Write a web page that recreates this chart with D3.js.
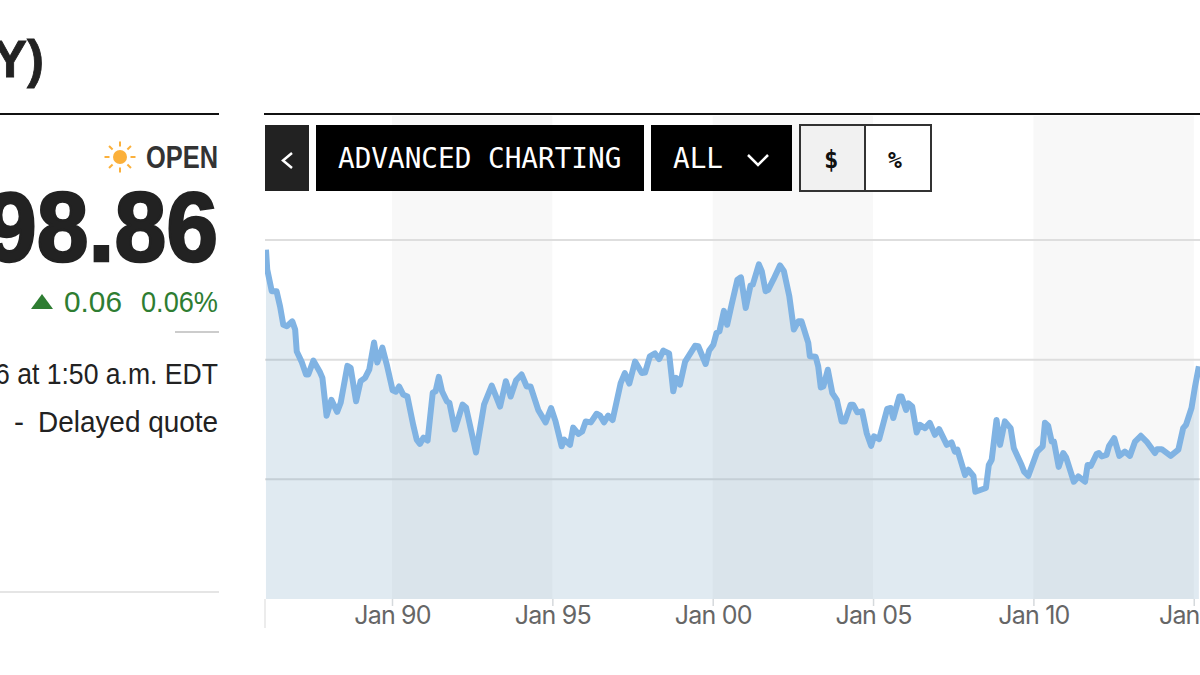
<!DOCTYPE html>
<html>
<head>
<meta charset="utf-8">
<script src="https://cdn.jsdelivr.net/npm/d3@7"></script>
<style>
  html, body { margin: 0; padding: 0; background: #fff; overflow: hidden; }
  svg { display: block; }
  text { font-family: "Liberation Sans", sans-serif; }
  .axis path { display: none; }
  .axis line { stroke: #d5d9dc; stroke-width: 1.5; }
  .axis text { font-family: "Inter", sans-serif; font-size: 25px; fill: #666; letter-spacing: -0.8px; }
</style>
</head>
<body>
<div id="chart"></div>
<script>
// Values: decimal year, index level
const years = [
  1986.07,1986.11,1986.25,1986.40,1986.51,1986.61,1986.72,1986.89,1986.98,1987.03,1987.18,1987.32,1987.39,1987.55,1987.76,1987.83,1987.96,
  1988.11,1988.29,1988.40,1988.61,1988.71,1988.88,1989.02,1989.16,1989.29,1989.44,1989.54,1989.70,1989.85,
  1990.02,1990.12,1990.22,1990.35,1990.48,1990.66,1990.77,1990.87,1990.98,1991.11,1991.27,1991.36,1991.46,1991.56,1991.71,1991.79,1991.96,
  1992.20,1992.31,1992.62,1992.87,1993.11,1993.37,1993.55,1993.70,1993.87,1994.04,1994.20,1994.32,1994.56,1994.79,1994.96,
  1995.10,1995.29,1995.37,1995.55,1995.65,1995.81,1995.93,1996.04,1996.20,1996.38,1996.49,1996.61,1996.74,1996.88,
  1997.13,1997.26,1997.40,1997.58,1997.79,1997.89,1998.04,1998.20,1998.33,1998.46,1998.64,1998.77,1998.86,1998.98,
  1999.14,1999.45,1999.55,1999.78,1999.89,2000.02,2000.12,2000.21,2000.35,2000.45,2000.59,2000.77,2000.88,
  2001.03,2001.18,2001.25,2001.44,2001.53,2001.65,2001.73,2001.89,2002.10,2002.22,2002.39,2002.53,2002.67,2002.77,2002.98,
  2003.03,2003.21,2003.29,2003.37,2003.45,2003.59,2003.73,2003.87,2004.02,2004.12,2004.30,2004.38,2004.51,2004.66,2004.80,2004.94,
  2005.03,2005.19,2005.44,2005.55,2005.63,2005.82,2005.89,2006.03,2006.10,2006.22,2006.36,2006.46,2006.62,2006.77,2006.93,
  2007.06,2007.30,2007.45,2007.55,2007.63,2007.87,2007.97,2008.13,2008.19,2008.52,2008.61,2008.70,2008.85,2008.96,
  2009.11,2009.29,2009.39,2009.63,2009.71,2009.84,2010.12,2010.29,2010.36,2010.46,2010.57,2010.64,2010.79,2010.93,
  2011.02,2011.26,2011.40,2011.61,2011.69,2011.79,2011.97,2012.04,2012.13,2012.28,2012.36,2012.52,2012.68,2012.85,
  2013.01,2013.17,2013.35,2013.53,2013.79,2013.86,2014.00,2014.28,2014.52,2014.67,2014.76,2014.93,2015.04,2015.16
];
const levels = [
  123.0,118.8,114.3,114.3,111.1,107.3,107.0,108.0,106.3,101.7,99.6,96.9,96.9,99.8,97.3,96.2,88.3,
  91.6,89.1,91.0,98.7,98.3,91.3,95.5,96.2,97.9,103.6,99.4,102.5,98.6,
  93.6,93.3,94.4,92.7,92.3,86.4,83.3,82.4,83.7,83.1,93.1,93.4,96.4,93.4,91.3,91.0,85.4,
  90.6,90.0,80.6,90.6,94.6,90.2,95.5,92.3,95.7,96.9,94.4,94.4,89.5,86.9,89.9,
  87.1,81.9,83.3,82.2,85.8,84.5,85.0,87.1,86.9,88.7,88.3,86.9,88.3,87.4,
  95.1,97.2,95.0,99.6,97.2,97.3,100.7,101.3,100.1,101.9,101.3,93.4,96.2,94.8,
  99.6,102.9,102.8,99.1,101.9,103.1,105.6,105.9,110.2,107.3,111.5,116.7,117.2,
  110.8,115.5,115.7,119.9,118.5,114.3,114.6,116.7,119.7,118.5,113.2,106.3,108.0,108.0,103.5,
  100.7,100.6,98.6,94.2,94.4,97.9,93.0,91.6,87.1,87.1,90.6,90.6,89.0,89.2,84.7,82.0,
  84.0,83.4,89.7,89.9,87.8,92.3,92.3,89.5,90.9,90.2,84.8,86.4,85.7,86.8,84.3,
  85.5,82.2,82.7,80.8,81.2,75.9,77.0,75.7,72.4,73.2,78.0,79.1,87.4,82.2,
  87.1,85.7,81.5,78.0,76.6,75.7,80.8,81.9,86.8,86.2,82.9,82.9,77.6,80.5,
  79.6,74.5,75.6,74.5,78.0,77.8,80.3,80.5,79.8,80.1,82.0,83.6,79.9,80.8,
  79.9,82.9,84.1,82.9,80.5,81.3,81.3,79.9,81.2,85.7,86.4,89.9,94.4,98.6
];
const gridLevels = [75, 100, 125];
const tickYears = [1990, 1995, 2000, 2005, 2010, 2015];
const tickLabels = ['Jan 90', 'Jan 95', 'Jan 00', 'Jan 05', 'Jan 10', 'Jan 15'];
// shaded five year columns
const bandStarts = [1990, 2000, 2010];
const bandEnds = [1995, 2005, 2015];

const WIDTH = 1200;
const HEIGHT = 675;
const PLOT_LEFT = 265;
const BASELINE = 599;

const svg = d3.select('#chart').append('svg')
    .attr('width', WIDTH)
    .attr('height', HEIGHT);

const x = d3.scaleLinear().domain([1990, 2015]).range([392, 1193.75]);
const y = d3.scaleLinear().domain([50, 125]).range([BASELINE, 240]);

svg.append('clipPath').attr('id', 'plot-clip')
    .append('rect')
    .attr('x', PLOT_LEFT)
    .attr('y', 116)
    .attr('width', WIDTH - PLOT_LEFT)
    .attr('height', BASELINE - 116);

const plot = svg.append('g').attr('clip-path', 'url(#plot-clip)');

// Background bands
bandStarts.forEach((start, i) => {
    plot.append('rect')
        .attr('x', x(start))
        .attr('y', 116)
        .attr('width', x(bandEnds[i]) - x(start))
        .attr('height', BASELINE - 116)
        .attr('fill', '#f8f8f8');
});

// Grid lines
gridLevels.forEach(level => {
    plot.append('line')
        .attr('x1', PLOT_LEFT)
        .attr('x2', WIDTH)
        .attr('y1', y(level))
        .attr('y2', y(level))
        .attr('stroke', '#dedede')
        .attr('stroke-width', 2);
});

// Area and line
const points = years.map((year, i) => [year, levels[i]]);

plot.append('path')
    .datum(points)
    .attr('fill', '#5b8fb5')
    .attr('fill-opacity', 0.19)
    .attr('d', d3.area().x(d => x(d[0])).y0(BASELINE).y1(d => y(d[1])));

plot.append('path')
    .datum(points)
    .attr('fill', 'none')
    .attr('stroke', '#80b3e3')
    .attr('stroke-width', 6)
    .attr('stroke-linejoin', 'round')
    .attr('d', d3.line().x(d => x(d[0])).y(d => y(d[1])));

// X axis
const axis = svg.append('g')
    .attr('class', 'axis')
    .attr('transform', `translate(0, ${BASELINE})`)
    .call(d3.axisBottom(x)
        .tickValues(tickYears)
        .tickSize(7)
        .tickPadding(0)
        .tickFormat((d, i) => tickLabels[i]));

svg.append('line')
    .attr('x1', 265).attr('x2', 265)
    .attr('y1', BASELINE).attr('y2', 628)
    .attr('stroke', '#e6e6e6').attr('stroke-width', 1.5);

// Rules
[[0, 219], [264, WIDTH]].forEach(r => {
    svg.append('line')
        .attr('x1', r[0]).attr('x2', r[1])
        .attr('y1', 114).attr('y2', 114)
        .attr('stroke', '#111').attr('stroke-width', 2);
});
svg.append('line').attr('x1', 175).attr('x2', 219).attr('y1', 332).attr('y2', 332)
    .attr('stroke', '#bbb').attr('stroke-width', 1.5);
svg.append('line').attr('x1', 0).attr('x2', 219).attr('y1', 592).attr('y2', 592)
    .attr('stroke', '#ddd').attr('stroke-width', 1.5);

// Buttons
function button(left, right, fill, stroke) {
    svg.append('rect')
        .attr('x', left).attr('y', 125)
        .attr('width', right - left).attr('height', 66)
        .attr('fill', fill)
        .attr('stroke', stroke || 'none')
        .attr('stroke-width', stroke ? 2 : 0);
}
function monoLabel(px, text, fill, size, weight) {
    svg.append('text')
        .attr('x', px).attr('y', 168)
        .attr('fill', fill)
        .attr('font-size', size)
        .attr('font-weight', weight || 400)
        .style('font-family', '"DejaVu Sans Mono", monospace')
        .text(text);
}
button(265, 309, '#222');
button(316, 644, '#000');
button(651, 792, '#000');
button(800, 865, '#f1f1f1', '#333');
button(865, 931, '#fff', '#333');

svg.append('path').attr('d', 'M292,153 L283,160.5 L292,168')
    .attr('fill', 'none').attr('stroke', '#fff').attr('stroke-width', 2.5);
monoLabel(338, 'ADVANCED CHARTING', '#fff', 27.7);
monoLabel(673, 'ALL', '#fff', 27.7);
svg.append('path').attr('d', 'M748,155 L758,165 L768,155')
    .attr('fill', 'none').attr('stroke', '#fff').attr('stroke-width', 2.5);
monoLabel(824, '$', '#111', 24, 700);
monoLabel(888, '%', '#111', 23, 700);

// Headline and quote block, squeezed to the widths of the original narrow face
function quoteText(px, py, text, size, weight, fill, length, thicken) {
    const t = svg.append('text')
        .attr('x', px).attr('y', py)
        .attr('text-anchor', 'end')
        .attr('font-size', size)
        .attr('font-weight', weight)
        .attr('fill', fill)
        .text(text);
    if (length) {
        t.attr('textLength', length).attr('lengthAdjust', 'spacingAndGlyphs');
    }
    if (thicken) {
        t.attr('stroke', fill).attr('stroke-width', thicken);
    }
}
quoteText(44, 77, 'Y)', 51, 700, '#222', null, 0.8);
quoteText(218, 168, 'OPEN', 31, 700, '#333', 72);
quoteText(218, 261, '98.86', 98, 700, '#222', 233, 2.5);
quoteText(218, 312, '0.06%', 30, 400, '#2e7d32', 77);
quoteText(122, 312, '0.06', 30, 400, '#2e7d32', 58);
quoteText(218, 384, '6 at 1:50 a.m. EDT', 30, 400, '#222', 223);
quoteText(218, 432, 'Delayed quote', 30, 400, '#222', 180);
quoteText(24, 432, '-', 30, 400, '#222');

svg.append('path').attr('d', 'M31,309 L42,294 L53,309 Z').attr('fill', '#2e7d32');

// Sun icon
svg.append('circle').attr('cx', 120).attr('cy', 157).attr('r', 7).attr('fill', '#fbb03b');
d3.range(8).forEach(i => {
    const a = i * Math.PI / 4;
    svg.append('line')
        .attr('x1', 120 + 10.5 * Math.cos(a)).attr('y1', 157 + 10.5 * Math.sin(a))
        .attr('x2', 120 + 15.5 * Math.cos(a)).attr('y2', 157 + 15.5 * Math.sin(a))
        .attr('stroke', '#fbb03b').attr('stroke-width', 2);
});
</script>
</body>
</html>
